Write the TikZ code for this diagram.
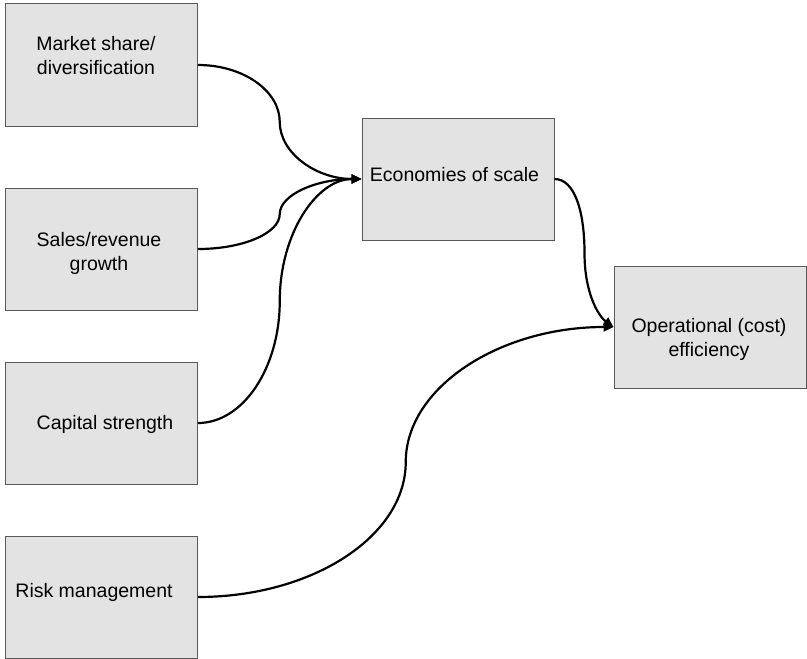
\documentclass[tikz,border=0pt]{standalone}
\usepackage{fontspec}
\setmainfont{Liberation Sans}
\usetikzlibrary{arrows.meta,calc}
\definecolor{boxgray}{RGB}{227,227,227}

\begin{document}
\begin{tikzpicture}[x=0.5pt,y=-0.5pt,
  factor/.style={draw=black!65,line width=0.5pt,fill=boxgray,
    minimum width=96pt,minimum height=61pt,inner sep=0pt},
  caption/.style={align=center,inner sep=0pt,
    font=\fontsize{9.75pt}{12pt}\selectfont},
  link/.style={line width=1.1pt,-{Triangle[length=5pt,width=4.5pt]}},
  % two quarter-ellipse halves, vertical in the middle
  sbend/.style={to path={let \p1=(\tikztostart), \p2=(\tikztotarget),
    \p3=($(\p1)!.5!(\p2)$) in
    .. controls ($(\p1)!.55!(\x3,\y1)$) and ($(\p3)!.55!(\x3,\y1)$) .. (\p3)
    .. controls ($(\p3)!.55!(\x3,\y2)$) and ($(\p2)!.55!(\x3,\y2)$) .. (\p2)
    \tikztonodes}}]
\useasboundingbox (0,0) rectangle (807,658);

% drivers
\node[factor] (mkt) at (101.5,65) {};
\node[caption] (mkt-t) at (96,55.5) {Market share/\\diversification};
\node[factor] (sales) at (101.5,249) {};
\node[caption] (sales-t) at (99,253) {Sales/revenue\\growth};
\node[factor] (capital) at (101.5,423) {};
\node[caption] (capital-t) at (105,424) {Capital strength};
\node[factor] (risk) at (101.5,597) {};
\node[caption] (risk-t) at (94,592) {Risk management};

% outcomes
\node[factor] (econ) at (458,179) {};
\node[caption] (econ-t) at (454.5,175) {Economies of scale};
\node[factor] (oper) at (710,327) {};
\node[caption] (oper-t) at (709,339) {Operational (cost)\\efficiency};

\draw[link] (mkt.east) to[sbend] (econ.west);
\draw[link] (sales.east) to[sbend] (econ.west);
\draw[link] (capital.east) to[sbend] (econ.west);
\draw[link] (risk.east) to[sbend] (oper.west);
\draw[link] (econ.east) .. controls +(20,0) and +(0,-42) .. ++(30,74)
  .. controls +(0,42) and +(-14,-10) .. (oper.west);
\end{tikzpicture}
\end{document}
